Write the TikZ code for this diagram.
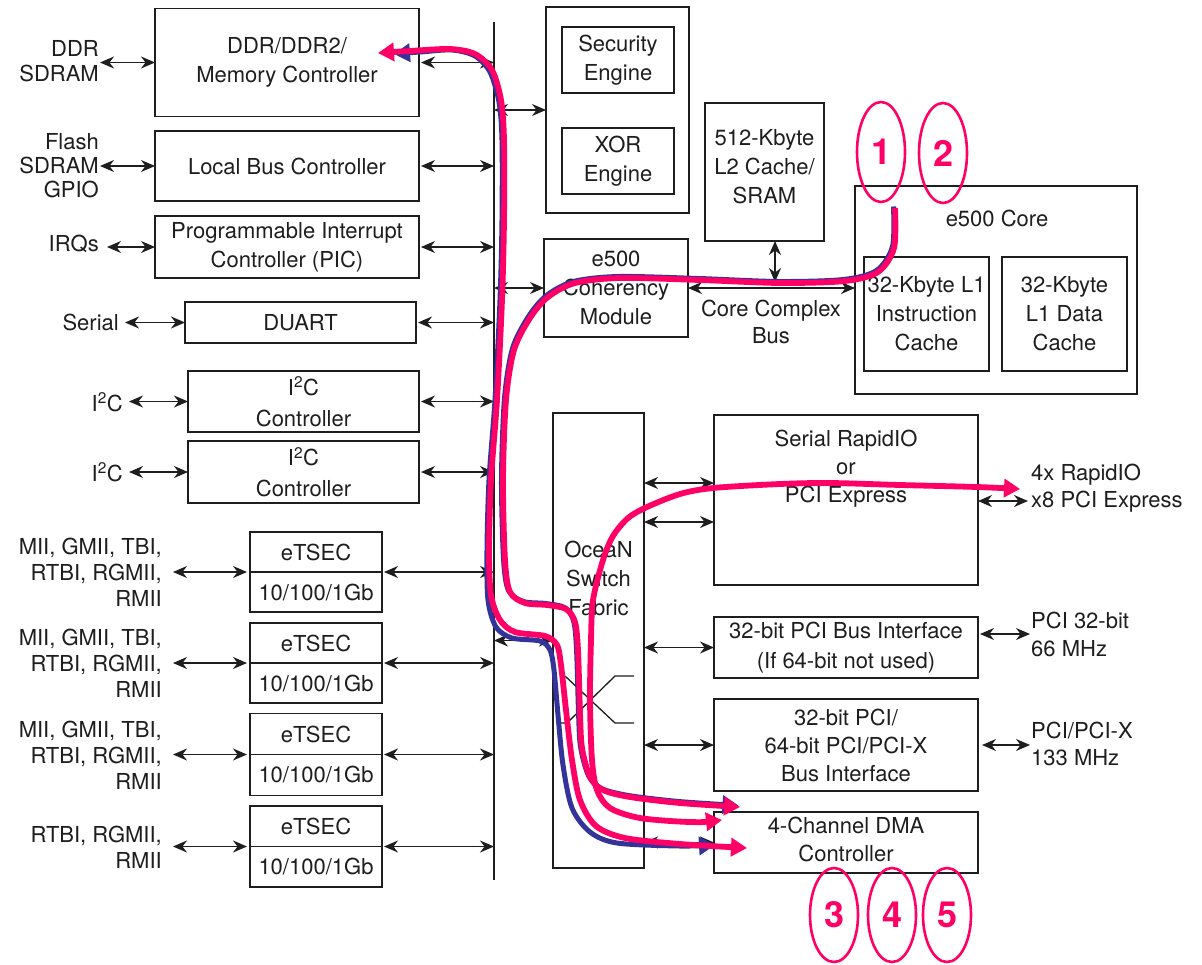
\documentclass[tikz,border=0pt]{standalone}
\usepackage{fontspec}
\setmainfont{TeX Gyre Heros}
\usetikzlibrary{arrows.meta,shapes.geometric,calc}
\definecolor{hlc}{RGB}{255,0,102}
\definecolor{hlblue}{RGB}{51,51,153}
\definecolor{ink}{RGB}{30,30,30}
\newcommand\tf{\fontsize{22}{29}\selectfont}
\begin{document}
\begin{tikzpicture}[x=1pt,y=-1pt,
  box/.style={draw=ink,line width=1.6pt,inner sep=0pt,outer sep=0pt,align=center,font=\tf,text=ink},
  txt/.style={inner sep=1pt,align=center,font=\tf,text=ink},
  boxline/.style={draw=ink,line width=1.6pt},
  thinl/.style={draw=ink,line width=1.3pt},
  dbl/.style={{Stealth[length=14pt,width=12pt]}-{Stealth[length=14pt,width=12pt]},line width=1.4pt,draw=ink},
  hl/.style={draw=hlc,line width=5.8pt},
  hlb/.style={draw=hlblue,line width=5pt},
  tipR/.style={-{Triangle[length=16pt,width=18pt]}},
  tipB/.style={{Triangle[length=16pt,width=18pt]}-{Triangle[length=16pt,width=18pt]}},
  num/.style={ellipse,draw=hlc,line width=2.6pt,minimum width=48pt,minimum height=100pt,inner sep=0pt,text=hlc,font=\fontsize{36}{40}\selectfont\bfseries}]
\useasboundingbox (0,0) rectangle (1202,964);
\fill[white] (0,0) rectangle (1202,964);

% ---------- left column ----------
\node[box,minimum width=264pt,minimum height=108pt] (ddr) at (287,62.5) {DDR/DDR2/\\Memory Controller};
\node[box,minimum width=264pt,minimum height=70pt] (lbc) at (287,166) {Local Bus Controller};
\node[box,minimum width=264pt,minimum height=62pt] (pic) at (287,247) {Programmable Interrupt\\Controller (PIC)};
\node[box,minimum width=231pt,minimum height=41pt] (duart) at (300.5,322.5) {DUART};
\node[box,minimum width=231pt,minimum height=61pt,font=\fontsize{22}{31}\selectfont] (iic1) at (303.5,401.5) {I\textsuperscript{2}C\\Controller};
\node[box,minimum width=231pt,minimum height=62pt,font=\fontsize{22}{31}\selectfont] (iic2) at (303.5,472) {I\textsuperscript{2}C\\Controller};

\node[box,minimum width=132pt,minimum height=80pt] (eth1) at (316,572) {};
\node[box,minimum width=132pt,minimum height=80pt] (eth2) at (316,663) {};
\node[box,minimum width=132pt,minimum height=82pt] (eth3) at (316,754.5) {};
\node[box,minimum width=132pt,minimum height=81pt] (eth4) at (316,846.5) {};
\foreach \n in {eth1,eth2,eth3,eth4}{
  \draw[boxline] (\n.west) -- (\n.east);
  \node[txt] (\n a) at ($(\n.center)+(0,-20)$) {eTSEC};
  \node[txt] (\n b) at ($(\n.center)+(0,20)$) {10/100/1Gb};
}

\node[txt,anchor=east,align=right,font=\fontsize{22}{25}\selectfont] (lddr) at (100,61) {DDR\\SDRAM};
\node[txt,anchor=east,align=right,font=\fontsize{22}{24}\selectfont] (llbc) at (100,166) {Flash\\SDRAM\\GPIO};
\node[txt,anchor=east] (lirq) at (100,244) {IRQs};
\node[txt,anchor=east] (lser) at (120,322) {Serial};
\node[txt,anchor=east] (liic1) at (124,402) {I\textsuperscript{2}C};
\node[txt,anchor=east] (liic2) at (124,472) {I\textsuperscript{2}C};
\node[txt,anchor=east,align=right,font=\fontsize{22}{26}\selectfont] (leth1) at (163,572) {MII, GMII, TBI,\\RTBI, RGMII,\\RMII};
\node[txt,anchor=east,align=right,font=\fontsize{22}{26}\selectfont] (leth2) at (163,663) {MII, GMII, TBI,\\RTBI, RGMII,\\RMII};
\node[txt,anchor=east,align=right,font=\fontsize{22}{26}\selectfont] (leth3) at (163,755) {MII, GMII, TBI,\\RTBI, RGMII,\\RMII};
\node[txt,anchor=east,align=right,font=\fontsize{22}{26}\selectfont] (leth4) at (163,847) {RTBI, RGMII,\\RMII};

\draw[dbl] (lddr.east |- ddr.west) -- (ddr.west);
\draw[dbl] (llbc.east |- lbc.west) -- (lbc.west);
\draw[dbl] ([xshift=7pt]lirq.east |- pic.west) -- (pic.west);
\draw[dbl] ([xshift=5pt]lser.east |- duart.west) -- (duart.west);
\draw[dbl] ([xshift=5pt]liic1.east |- iic1.west) -- (iic1.west);
\draw[dbl] ([xshift=5pt]liic2.east |- iic2.west) -- (iic2.west);
\foreach \n in {1,2,3,4}{
  \draw[dbl] ([xshift=10pt]leth\n.east |- eth\n.west) -- ([xshift=-3pt]eth\n.west);
}

% ---------- bus ----------
\coordinate (bt) at (494,22);
\coordinate (bb) at (494,880);
\draw[boxline] (bt) -- (bb);
\foreach \n in {ddr,lbc,pic,duart,iic1,iic2,eth1,eth2,eth3,eth4}{
  \draw[dbl] ([xshift=2pt]\n.east) -- (\n.east -| bt);
}

% ---------- right column ----------
\node[box,minimum width=143pt,minimum height=206pt] (eng) at (617.5,110) {};
\node[box,minimum width=112pt,minimum height=66pt] (sec) at (618,60) {Security\\Engine};
\node[box,minimum width=112pt,minimum height=66pt] (xor) at (618,161) {XOR\\Engine};
\node[box,minimum width=119pt,minimum height=138pt] (l2) at (764.5,172) {};
\node[txt] (l2t) at (764.5,167) {512-Kbyte\\L2 Cache/\\SRAM};
\node[box,minimum width=144pt,minimum height=98pt] (coh) at (616,288) {e500\\Coherency\\Module};
\node[box,minimum width=282pt,minimum height=208pt] (core) at (996,290) {};
\node[txt] (coret) at (997,218) {e500 Core};
\node[box,minimum width=125pt,minimum height=114pt] (l1i) at (926.5,314) {32-Kbyte L1\\Instruction\\Cache};
\node[box,minimum width=125pt,minimum height=114pt] (l1d) at (1064.5,314) {32-Kbyte\\L1 Data\\Cache};
\node[txt,font=\fontsize{22}{27}\selectfont] (ccb) at (771,321.5) {Core Complex\\Bus};

\node[box,minimum width=91pt,minimum height=455pt] (ocean) at (598.5,640.5) {};
\node[txt] (oceant) at (598.5,578) {OceaN\\Switch\\Fabric};
\node[box,minimum width=264pt,minimum height=170pt] (srio) at (846,500) {};
\node[txt,font=\fontsize{22}{28}\selectfont] (sriot) at (846,469) {Serial RapidIO\\or\\PCI Express};
\node[box,minimum width=264pt,minimum height=61pt,font=\fontsize{22}{30}\selectfont] (pci32) at (846,647.5) {32-bit PCI Bus Interface\\(If 64-bit not used)};
\node[box,minimum width=264pt,minimum height=92pt,font=\fontsize{22}{28}\selectfont] (pcix) at (846,745) {32-bit PCI/\\64-bit PCI/PCI-X\\Bus Interface};
\node[box,minimum width=264pt,minimum height=61pt] (dma) at (846,842.5) {};
\node[txt,font=\fontsize{22}{28}\selectfont] (dmat) at (846,839) {4-Channel DMA\\Controller};

\node[txt,anchor=west,align=left,font=\fontsize{22}{27}\selectfont] (lsrio) at (1030,488.5) {4x RapidIO\\x8 PCI Express};
\node[txt,anchor=west,align=left,font=\fontsize{22}{28}\selectfont] (lpci32) at (1030,634) {PCI 32-bit\\66 MHz};
\node[txt,anchor=west,align=left,font=\fontsize{22}{27}\selectfont] (lpcix) at (1030,743.5) {PCI/PCI-X\\133 MHz};

\foreach \n in {eng,coh,ocean}{
  \draw[dbl] (\n.west -| bt) -- (\n.west);
}
\coordinate (sA) at ($(srio.west)+(0,-17)$);
\coordinate (sB) at ($(srio.west)+(0,22)$);
\draw[dbl] (ocean.east |- sA) -- (sA);
\draw[dbl] (ocean.east |- sB) -- (sB);
\foreach \n in {pci32,pcix,dma}{
  \draw[dbl] (ocean.east |- \n.west) -- (\n.west);
}
\coordinate (xA) at ($(srio.east)+(50,1)$);
\draw[dbl] (srio.east |- xA) -- (xA);
\draw[dbl] ([xshift=2pt]pci32.east |- lpci32.west) -- (lpci32.west);
\draw[dbl] ([xshift=4pt]pcix.east) -- (pcix.east -| lpcix.west);

\draw[dbl] (coh.east) -- (coh.east -| core.west);
\coordinate (l2x) at (775,0);
\draw[dbl,shorten >=6pt] (l2.south -| l2x) -- (coh.east -| l2x);

% switch symbol
\draw[thinl] (565,676) -- (615,723) -- (634,723);
\draw[thinl] (561,723) -- (567,723) -- (615,676) -- (634,676);

% ---------- highlighted transfer paths ----------
% blue companions
\draw[hlb,tipB] plot[smooth] coordinates {(394,54) (420,52) (452,50) (475,56) (490,72) (499,102) (502,140) (502,220) (500,300) (495,400) (489,480) (487,550) (488,600) (496,627) (512,638) (540,641) (550,650) (554,670) (558,715) (563,765) (572,808) (590,832) (617,843) (680,846) (715,845)};
\draw[hlb,tipR,xshift=-1.5pt,yshift=1.5pt] plot[smooth] coordinates {(895,208) (894,248) (878,272) (845,281) (780,283) (700,280) (620,278) (575,283) (548,297) (530,318) (514,350) (506,400) (503,480) (505,560) (510,592) (525,603) (547,605) (566,609) (575,622) (578,650) (580,713) (582,748) (590,777) (603,790) (630,797) (680,803) (740,807)};
% pink paths
\draw[hl,tipB] plot[smooth] coordinates {(378,53) (410,51) (450,49) (475,54) (492,70) (501,100) (504,140) (504,220) (502,300) (497,400) (491,480) (489,550) (491,595) (500,620) (515,632) (545,636) (557,645) (561,665) (566,710) (572,760) (580,800) (596,826) (625,838) (680,844) (747,848)};
\draw[hl,tipR] plot[smooth] coordinates {(895,208) (894,248) (878,272) (845,281) (780,283) (700,280) (620,278) (575,283) (548,297) (530,318) (514,350) (506,400) (503,480) (505,560) (510,592) (525,603) (547,605) (566,609) (575,622) (578,650) (580,713) (582,748) (590,777) (603,790) (630,797) (680,803) (740,807)};
\draw[hl,tipB] plot[smooth] coordinates {(722,820) (690,822) (640,818) (610,808) (597,790) (592,760) (590,700) (591,640) (593,600) (603,560) (613,536) (628,518) (647,507) (680,494) (713,488) (780,484) (830,483) (900,485) (977,487) (1020,489)};

% ---------- step markers ----------
\node[num] (n1) at (881,152) {1};
\node[num] (n2) at (943,153) {2};
\node[num,minimum height=94pt] (n3) at (834,915) {3};
\node[num,minimum height=94pt] (n4) at (892,915) {4};
\node[num,minimum height=94pt] (n5) at (947,915) {5};
\end{tikzpicture}
\end{document}
